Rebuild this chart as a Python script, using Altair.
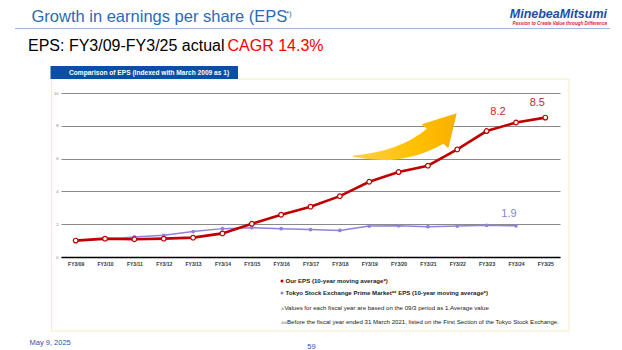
import altair as alt
import pandas as pd

# ---------------- data ----------------
categories = ["FY3/09", "FY3/10", "FY3/11", "FY3/12", "FY3/13", "FY3/14", "FY3/15",
              "FY3/16", "FY3/17", "FY3/18", "FY3/19", "FY3/20", "FY3/21", "FY3/22",
              "FY3/23", "FY3/24", "FY3/25"]
our_eps = [1.0, 1.12, 1.08, 1.12, 1.18, 1.44, 2.03, 2.58, 3.07, 3.71, 4.59, 5.18,
           5.57, 6.56, 7.68, 8.2, 8.5]
tse_eps = [1.0, 1.08, 1.22, 1.32, 1.55, 1.73, 1.79, 1.73, 1.67, 1.62, 1.89, 1.91,
           1.85, 1.89, 1.93, 1.9]
y_ticks = [0, 2, 4, 6, 8, 10]

title_main = "Growth in earnings per share (EPS"
title_sup = "*)"
subtitle_black = "EPS: FY3/09-FY3/25 actual"
subtitle_red = "CAGR 14.3%"
panel_title = "Comparison of EPS (Indexed with March 2009 as 1)"
legend_items = ["Our EPS (10-year moving average*)",
                "Tokyo Stock Exchange Prime Market** EPS (10-year moving average*)"]
notes = ["Values for each fiscal year are based on the 09/3 period as 1.Average value",
         "Before the fiscal year ended 31 March 2021, listed on the First Section of the Tokyo Stock Exchange."]
logo = "MinebeaMitsumi"
tagline = "Passion to Create Value through Difference"
footer_date = "May 9, 2025"
page_no = "59"

# ---------------- layout ----------------
FONT = "Liberation Sans"
CW, CH = 622, 350
L, T, W, H = 61, 93, 499, 164
RED = "#c00000"
PURPLE = "#9280dc"
BLUE = "#2a6ab6"


def px(x):
    return x - L


def py(y):
    return y - T


one = pd.DataFrame({"k": [0]})


def label(text, x, y, size, color="#000000", weight="normal", align="left",
          baseline="middle", style="normal"):
    return alt.Chart(one).mark_text(
        text=text, fontSize=size, color=color, fontWeight=weight, align=align,
        baseline=baseline, fontStyle=style, font=FONT
    ).encode(x=alt.value(px(x)), y=alt.value(py(y)))


def rect(x1, y1, x2, y2, **kw):
    return alt.Chart(one).mark_rect(**kw).encode(
        x=alt.value(px(x1)), x2=alt.value(px(x2)),
        y=alt.value(py(y1)), y2=alt.value(py(y2)))


def hline(x1, x2, y, color, width):
    return alt.Chart(one).mark_rule(color=color, strokeWidth=width).encode(
        x=alt.value(px(x1)), x2=alt.value(px(x2)), y=alt.value(py(y)))


label_expr = "[" + ",".join(f"'{c}'" for c in categories) + "][datum.value]"

xs = alt.Scale(domain=[-0.5, len(categories) - 0.5], nice=False, zero=False)
xa = alt.Axis(values=list(range(len(categories))), labelExpr=label_expr, grid=False,
              ticks=False, domainColor="#000000", domainWidth=1.5, labelFontSize=5,
              labelFontWeight="bold", labelColor="#333333", labelPadding=4,
              labelOverlap=False, labelFont=FONT, title=None)
ys = alt.Scale(domain=[0, 10], nice=False)
ya = alt.Axis(values=y_ticks, grid=True, gridColor="#8a8a8a", gridWidth=1, ticks=False,
              domain=False, labelFontSize=4, labelColor="#777777", labelPadding=3,
              labelFont=FONT, title=None)

our_df = pd.DataFrame({"idx": list(range(len(our_eps))), "value": our_eps})
tse_df = pd.DataFrame({"idx": list(range(len(tse_eps))), "value": tse_eps})

x_enc = alt.X("idx:Q", scale=xs, axis=xa)
y_enc = alt.Y("value:Q", scale=ys, axis=ya)

ARROW = ("M -1 0.375 Q -0.1 0.3 0.42 -0.14 L 0.32 -0.225 L 0.994 -0.437 "
         "L 0.833 0.237 L 0.737 0.148 Q -0.068 0.606 -1 0.4 Z")

arrow = alt.Chart(one).mark_point(
    shape=ARROW, size=10816, filled=True, strokeWidth=0, opacity=1,
    fill=alt.LinearGradient(gradient="linear", x1=0, x2=1, y1=0, y2=0,
                            stops=[alt.GradientStop(color="#ffd04a", offset=0),
                                   alt.GradientStop(color="#ffc000", offset=0.6),
                                   alt.GradientStop(color="#f9b000", offset=1)])
).encode(x=alt.X(datum=11.22, scale=xs, axis=xa), y=alt.Y(datum=7.38, scale=ys, axis=ya))

tse_line = alt.Chart(tse_df).mark_line(color=PURPLE, strokeWidth=1.5).encode(x=x_enc, y=y_enc)
tse_pts = alt.Chart(tse_df).mark_point(filled=True, color=PURPLE, size=14, opacity=1).encode(x=x_enc, y=y_enc)
our_line = alt.Chart(our_df).mark_line(color=RED, strokeWidth=2.6).encode(x=x_enc, y=y_enc)
our_pts = alt.Chart(our_df).mark_point(filled=True, fill="white", stroke=RED, strokeWidth=1.2,
                                       size=22, opacity=1).encode(x=x_enc, y=y_enc)


def value_label(i, series, color, dx, dy):
    return alt.Chart(one).mark_text(
        text=f"{series[i]:.1f}", color=color, fontSize=11, font=FONT, dx=dx, dy=dy,
        baseline="middle", align="center"
    ).encode(x=alt.X(datum=i, scale=xs, axis=xa), y=alt.Y(datum=series[i], scale=ys, axis=ya))


lbl_82 = value_label(15, our_eps, "#d01c2c", -18, -11)
lbl_85 = value_label(16, our_eps, "#d01c2c", -8, -15)
lbl_19 = value_label(15, tse_eps, "#8a7fd6", -7, -12)

legend_red = alt.Chart(one).mark_circle(color=RED, size=9, opacity=1).encode(
    x=alt.value(px(282)), y=alt.value(py(281)))
legend_purple = alt.Chart(one).mark_circle(color=PURPLE, size=9, opacity=1).encode(
    x=alt.value(px(282)), y=alt.value(py(293)))

layers = [
    # slide header
    label(title_main, 31.5, 22, 16.5, color=BLUE, baseline="alphabetic"),
    label(title_sup, 286, 16, 8, color=BLUE, baseline="alphabetic"),
    hline(15, 610, 28.5, "#9db8d8", 1),
    label(logo, 607, 18, 12.5, color="#1d4fa3", weight="bold", style="italic",
          align="right", baseline="alphabetic"),
    label(tagline, 607, 25, 4.6, color="#d8243c", weight="bold", style="italic",
          align="right", baseline="alphabetic"),
    label(subtitle_black, 28, 51, 16, baseline="alphabetic"),
    label(subtitle_red, 227.5, 51, 16, color="#ff0000", baseline="alphabetic"),
    # panel
    rect(51.5, 79, 569, 331, fill="white", fillOpacity=0, stroke="#f6ebc6", strokeWidth=1),
    rect(50.5, 66, 238, 79, fill="#0b4ea6"),
    label(panel_title, 69, 72.8, 6.6, color="white", weight="bold"),
    # chart
    arrow,
    tse_line, tse_pts,
    our_line, our_pts,
    lbl_82, lbl_85, lbl_19,
    # legend & notes
    legend_red, legend_purple,
    label(legend_items[0], 285.5, 281, 6.1, color="#222222", weight="bold"),
    label(legend_items[1], 285.5, 293, 6.1, color="#222222", weight="bold"),
    label("\u203b", 280.5, 309, 4, color="#333333"),
    label(notes[0], 284.5, 308, 6.1, color="#222222"),
    label("\u203b\u203b", 280.5, 323, 4, color="#333333"),
    label(notes[1], 287, 322, 6.1, color="#222222"),
    # footer
    label(footer_date, 29.5, 343, 7.5, color="#2057b0"),
    label(page_no, 311.5, 346.5, 7.5, color="#2057b0", align="center"),
]

chart = alt.layer(*layers).properties(
    width=W, height=H,
    autosize=alt.AutoSizeParams(type="none"),
    padding={"left": L, "top": T, "right": CW - L - W, "bottom": CH - T - H},
    background="white",
).configure_view(stroke=None)

chart.save("out.html", embed_options={"renderer": "svg", "actions": False})
